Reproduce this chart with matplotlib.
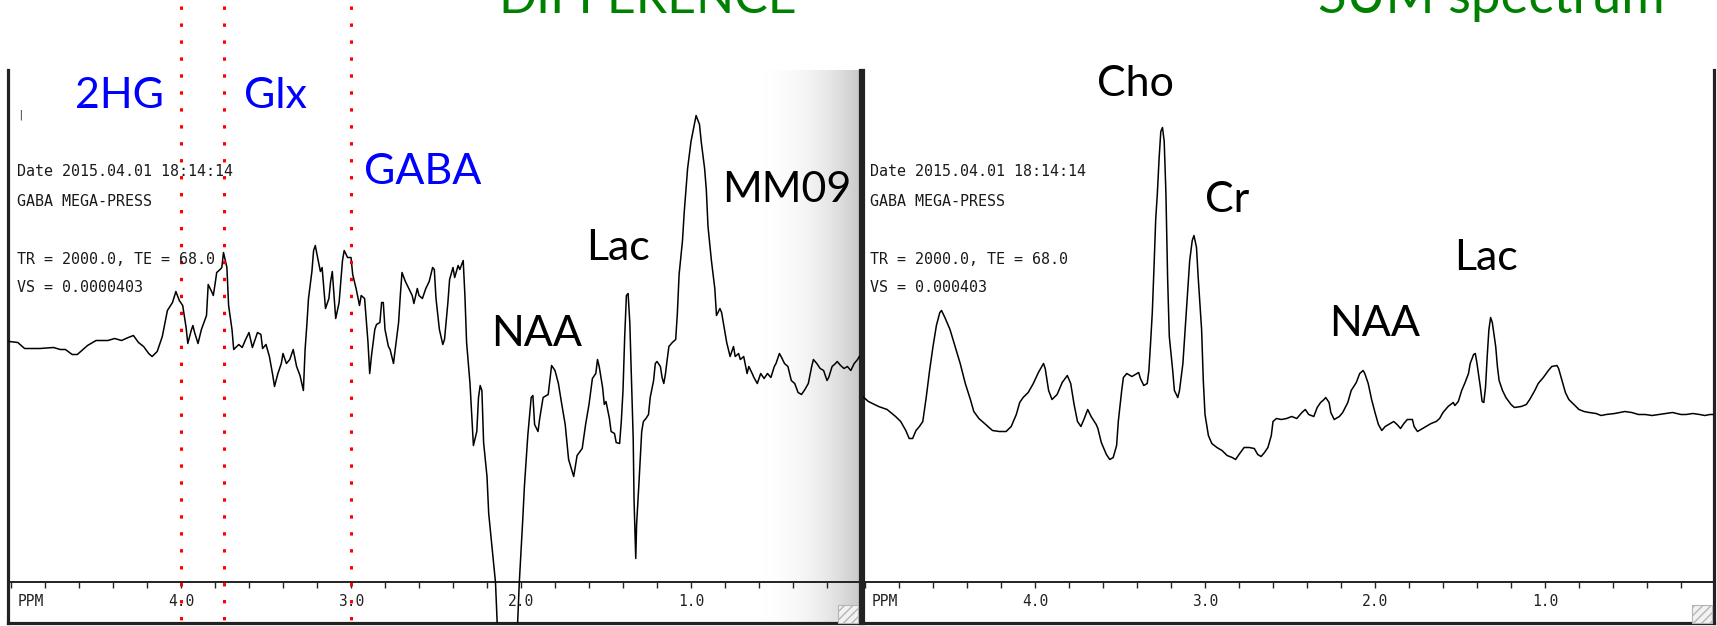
import numpy as np
import matplotlib.pyplot as plt
from matplotlib import transforms
from matplotlib.patches import Rectangle

# ---- values (ppm, amplitude in a.u.) ----
diff_ppm = [5.01, 4.96, 4.92, 4.83, 4.75, 4.71, 4.68, 4.64, 4.61, 4.55,
            4.50, 4.43, 4.39, 4.35, 4.31, 4.28, 4.25, 4.22, 4.19, 4.17,
            4.14, 4.11, 4.08, 4.05, 4.03, 4.01, 3.99, 3.97, 3.96, 3.94,
            3.93, 3.92, 3.90, 3.88, 3.85, 3.84, 3.82, 3.81, 3.80, 3.79,
            3.77, 3.76, 3.75, 3.73, 3.72, 3.70, 3.69, 3.66, 3.64, 3.62,
            3.60, 3.58, 3.57, 3.55, 3.53, 3.52, 3.50, 3.48, 3.46, 3.45,
            3.43, 3.41, 3.40, 3.38, 3.36, 3.34, 3.32, 3.30, 3.28,
            3.27, 3.26, 3.25, 3.23, 3.22, 3.21, 3.20, 3.18, 3.17, 3.15,
            3.13, 3.12, 3.11, 3.10, 3.09, 3.07, 3.06, 3.05, 3.04, 3.02,
            3.00, 2.99, 2.97, 2.95, 2.94, 2.92, 2.90, 2.89, 2.88, 2.86,
            2.85, 2.83, 2.82, 2.81, 2.80, 2.78, 2.77, 2.75, 2.74, 2.72,
            2.71, 2.70, 2.68, 2.66, 2.64, 2.63, 2.61, 2.60, 2.58, 2.56,
            2.54, 2.52, 2.51, 2.50, 2.48, 2.46, 2.45, 2.43, 2.42, 2.40,
            2.39, 2.37, 2.36, 2.34, 2.33, 2.32, 2.30, 2.29, 2.28, 2.26,
            2.25, 2.24, 2.23, 2.22, 2.20, 2.19, 2.17, 2.15, 2.14, 2.08,
            2.02, 2.01, 1.99, 1.98, 1.96, 1.94, 1.93, 1.92, 1.90, 1.89,
            1.87, 1.84, 1.82, 1.80, 1.78, 1.76, 1.74, 1.72, 1.69, 1.67,
            1.64, 1.62, 1.60,
            1.58, 1.56, 1.55, 1.54, 1.52, 1.51, 1.50, 1.48, 1.47, 1.45,
            1.44, 1.42, 1.41, 1.40, 1.39, 1.38, 1.37, 1.36, 1.35, 1.34,
            1.335, 1.325, 1.32, 1.305, 1.29, 1.28, 1.265, 1.25, 1.24, 1.22,
            1.21, 1.20, 1.18, 1.17, 1.16, 1.15, 1.14, 1.13, 1.11, 1.09,
            1.08, 1.07, 1.05, 1.04, 1.02, 1.00, 0.98, 0.97, 0.95, 0.94,
            0.92, 0.91, 0.90, 0.88, 0.86, 0.85, 0.83, 0.82, 0.80, 0.79,
            0.77, 0.75, 0.74, 0.72, 0.71, 0.69, 0.67, 0.66, 0.64, 0.63,
            0.61, 0.59, 0.57, 0.55, 0.53, 0.51, 0.50, 0.48, 0.47, 0.45,
            0.43, 0.42, 0.41, 0.39, 0.37, 0.35, 0.33, 0.31, 0.29, 0.28,
            0.26, 0.24, 0.22, 0.20, 0.19, 0.17, 0.15, 0.14, 0.12, 0.10,
            0.08, 0.06, 0.04, 0.02, 0.01]
diff_amp = [24.0, 23.9, 23.3, 23.3, 23.4, 23.2, 23.2, 22.7, 22.7, 23.6,
            24.1, 24.1, 24.3, 24.1, 24.4, 24.6, 23.9, 23.5, 22.8, 22.5,
            23.0, 24.5, 27.1, 27.9, 29.0, 28.1, 27.6, 25.4, 23.8, 25.1,
            25.6, 24.9, 23.8, 25.2, 26.6, 29.7, 29.0, 28.6, 29.7, 30.9,
            31.2, 31.4, 32.9, 31.4, 27.6, 25.2, 23.2, 23.7, 23.4, 24.2,
            24.9, 23.4, 23.9, 24.9, 24.7, 23.3, 23.7, 22.5, 20.6, 19.5,
            20.8, 21.8, 22.8, 21.8, 22.2, 23.2, 21.5, 20.6, 19.1,
            23.2, 25.6, 28.3, 31.0, 33.1, 33.6, 32.7, 31.0, 31.4, 27.3,
            28.3, 30.0, 31.0, 28.6, 26.3, 27.9, 30.0, 32.1, 33.1, 32.4,
            32.4, 30.7, 29.3, 27.6, 28.6, 28.3, 23.9, 20.8, 22.5, 25.2,
            25.7, 25.9, 27.9, 27.9, 25.2, 23.5, 23.2, 21.8, 23.2, 25.9,
            28.6, 30.9, 30.0, 29.3, 28.6, 27.8, 29.3, 28.6, 28.3, 29.3,
            30.0, 31.4, 31.2, 28.3, 25.2, 23.7, 24.2, 27.9, 30.2, 31.4,
            30.4, 31.6, 31.2, 32.1, 28.6, 23.9, 19.8, 16.7, 13.6, 15.0,
            18.4, 19.6, 19.1, 13.9, 10.5, 6.8, 3.4, -0.1, -4.2, -10.0,
            -4.2, -0.1, 6.1, 9.5, 14.6, 18.4, 18.6, 15.7, 15.0, 16.3,
            18.4, 18.7, 21.6, 21.1, 19.8, 17.7, 15.7, 12.2, 10.5, 12.6,
            13.3, 15.7, 17.7,
            20.3, 20.8, 22.2, 21.5, 19.4, 17.7, 18.0, 16.3, 15.0, 14.8,
            13.9, 13.8, 16.0, 19.1, 24.5, 28.6, 28.8, 25.9, 20.1, 14.3,
            8.1, 2.3, 5.7, 10.2, 15.0, 16.0, 16.3, 16.7, 18.4, 20.1,
            21.8, 22.0, 21.5, 20.4, 19.8, 20.8, 22.2, 23.5, 23.9, 24.2,
            26.9, 30.7, 34.1, 36.9, 41.3, 44.0, 45.7, 46.6, 45.7, 44.0,
            41.3, 39.2, 35.5, 32.1, 29.3, 26.6, 27.3, 26.9, 24.9, 23.9,
            22.5, 23.5, 22.5, 22.8, 22.2, 22.5, 20.8, 21.5, 20.8, 20.4,
            19.8, 20.8, 20.3, 20.8, 20.4, 21.5, 21.8, 22.8, 22.5, 21.8,
            21.5, 20.8, 20.1, 19.8, 18.9, 18.7, 19.2, 19.8, 21.5, 22.2,
            21.8, 21.3, 21.1, 20.1, 20.4, 21.5, 21.8, 22.0, 21.6, 21.3,
            21.5, 21.1, 21.8, 22.2, 22.5]

sum_ppm = [5.02, 4.98, 4.92, 4.87, 4.82, 4.79, 4.76, 4.74, 4.72, 4.70,
           4.68, 4.66, 4.64, 4.62, 4.60, 4.58, 4.56, 4.55, 4.53, 4.50,
           4.47, 4.44, 4.41, 4.38, 4.36, 4.33, 4.29, 4.25, 4.21, 4.17,
           4.14, 4.11, 4.09, 4.07, 4.04, 4.01, 3.98, 3.95, 3.94, 3.92,
           3.90, 3.87, 3.84, 3.81, 3.79, 3.77, 3.75, 3.73, 3.71, 3.69,
           3.67, 3.64, 3.63, 3.61, 3.58, 3.56, 3.54, 3.52, 3.51, 3.49,
           3.48, 3.46, 3.43, 3.41, 3.39, 3.38, 3.36, 3.34, 3.33, 3.32,
           3.31, 3.30, 3.29, 3.28,
           3.27, 3.26, 3.25, 3.24, 3.23, 3.22, 3.21, 3.19, 3.18, 3.16,
           3.15, 3.13, 3.11, 3.09, 3.075, 3.065, 3.05, 3.04, 3.02, 3.01,
           3.00, 2.98, 2.96, 2.93, 2.90, 2.87, 2.84, 2.82, 2.80, 2.77,
           2.74, 2.71, 2.69, 2.67, 2.65, 2.63, 2.61, 2.60, 2.58, 2.55,
           2.52, 2.49, 2.46, 2.43, 2.41, 2.39, 2.36, 2.34, 2.32, 2.30,
           2.29, 2.27, 2.26, 2.24, 2.21, 2.19, 2.16, 2.14, 2.11, 2.09,
           2.07, 2.06, 2.04, 2.02, 2.00, 1.98, 1.96, 1.94, 1.91, 1.89,
           1.87, 1.85, 1.83, 1.81, 1.78, 1.77, 1.75, 1.72, 1.70, 1.67,
           1.64, 1.62, 1.60, 1.57, 1.54,
           1.53, 1.51, 1.49, 1.47, 1.45, 1.44, 1.42, 1.41, 1.40, 1.38,
           1.37, 1.36, 1.35, 1.34, 1.33, 1.32, 1.31, 1.29, 1.28, 1.27,
           1.25, 1.23, 1.20, 1.18, 1.14, 1.11, 1.09, 1.06, 1.04, 1.01,
           0.98, 0.96, 0.93, 0.92, 0.90, 0.88, 0.86, 0.83, 0.80, 0.77,
           0.74, 0.70, 0.67, 0.64, 0.59, 0.56, 0.53, 0.49, 0.45, 0.41,
           0.37, 0.33, 0.29, 0.25, 0.20, 0.17, 0.13, 0.09, 0.06, 0.03,
           0.00]
sum_amp = [18.6, 18.0, 17.5, 17.2, 16.5, 16.0, 15.1, 14.3, 14.3, 15.1,
           15.5, 16.0, 18.4, 21.1, 23.5, 25.6, 26.9, 27.1, 26.4, 25.2,
           23.5, 21.8, 19.8, 18.2, 17.0, 16.3, 15.7, 15.1, 15.0, 15.0,
           15.5, 16.7, 17.9, 18.4, 18.9, 19.8, 20.9, 21.8, 21.3, 19.1,
           18.2, 18.7, 19.9, 20.6, 19.8, 17.7, 16.0, 15.5, 16.3, 17.2,
           16.5, 15.7, 15.3, 13.9, 12.7, 12.2, 12.4, 13.6, 16.0, 19.1,
           20.4, 20.8, 20.5, 20.7, 20.9, 20.3, 19.6, 19.8, 21.1, 23.9,
           26.9, 31.4, 36.2, 38.9,
           42.3, 45.0, 45.4, 44.0, 38.9, 30.4, 24.5, 21.1, 19.1, 18.4,
           19.1, 21.8, 26.9, 32.1, 34.1, 34.6, 33.4, 30.4, 25.2, 20.1,
           16.7, 14.6, 13.8, 13.4, 13.1, 12.6, 12.4, 12.2, 12.7, 13.4,
           13.4, 13.3, 12.7, 12.5, 12.9, 13.4, 14.6, 16.0, 16.3, 16.2,
           16.3, 16.5, 16.3, 16.9, 17.2, 16.7, 16.5, 17.4, 17.9, 18.2,
           18.4, 17.9, 16.9, 16.2, 16.5, 16.9, 17.9, 19.1, 19.9, 20.8,
           21.1, 20.8, 19.8, 18.2, 16.9, 15.7, 15.1, 15.5, 15.8, 16.0,
           15.7, 15.3, 15.8, 16.2, 16.2, 15.5, 15.0, 15.3, 15.5, 15.8,
           16.0, 16.3, 16.9, 17.5, 17.9,
           17.6, 18.0, 19.1, 19.9, 20.8, 21.8, 22.7, 22.8, 21.8, 19.4,
           18.0, 17.9, 19.4, 22.5, 25.2, 26.4, 25.9, 23.5, 21.5, 20.1,
           19.1, 18.4, 17.7, 17.4, 17.5, 17.7, 18.2, 19.1, 19.8, 20.4,
           21.1, 21.5, 21.6, 21.3, 20.1, 18.9, 18.2, 17.7, 17.2, 17.0,
           16.9, 16.8, 16.6, 16.7, 16.8, 16.9, 17.0, 16.9, 16.7, 16.7,
           16.6, 16.7, 16.8, 16.9, 16.7, 16.7, 16.8, 16.7, 16.6, 16.7,
           16.7]

tick_labels = ['4.0', '3.0', '2.0', '1.0']
tick_label_ppm = [4.0, 3.0, 2.0, 1.0]
red_line_ppm = [4.0, 3.75, 3.0]

info_left = ['Date 2015.04.01 18:14:14', 'GABA MEGA-PRESS', '',
             'TR = 2000.0, TE = 68.0', 'VS = 0.0000403']
info_right = ['Date 2015.04.01 18:14:14', 'GABA MEGA-PRESS', '',
              'TR = 2000.0, TE = 68.0', 'VS = 0.000403']

# peak labels: text, ppm, amplitude (baseline), colour
labels_left = [('2HG', 4.624, 47.4, 'blue'), ('Glx', 3.629, 47.4, 'blue'),
               ('GABA', 2.924, 39.7, 'blue'), ('NAA', 2.176, 23.5, 'black'),
               ('Lac', 1.618, 32.2, 'black'), ('MM09', 0.818, 38.0, 'black')]
labels_right = [('Cho', 3.635, 48.6, 'black'), ('Cr', 3.0, 37.0, 'black'),
                ('NAA', 2.271, 24.6, 'black'), ('Lac', 1.535, 31.1, 'black')]

# ---- layout (pixels of the 1717 x 626 image) ----
W, H = 1717, 626
AX_TOP, AX_BOT, BASE_Y = 70, 623, 581.5
PX_PER_PPM, PX_PER_AU = 170.0, 10.0
LABEL_FONT = 'Lato'
MONO = 'DejaVu Sans Mono'
EDGE = '#222222'

fig = plt.figure(figsize=(W / 100, H / 100), dpi=100)


def make_panel(x0, x1, x_5ppm, ppm, amp):
    ax = fig.add_axes([x0 / W, 1 - AX_BOT / H, (x1 - x0) / W, (AX_BOT - AX_TOP) / H])
    ax.set_xlim(5.0 + (x_5ppm - x0) / PX_PER_PPM, 5.0 - (x1 - x_5ppm) / PX_PER_PPM)
    ax.set_ylim(-(AX_BOT - BASE_Y) / PX_PER_AU, (BASE_Y - AX_TOP) / PX_PER_AU)
    ax.set_xticks([])
    ax.set_yticks([])
    ax.spines['top'].set_visible(False)
    for s in ['left', 'right', 'bottom']:
        ax.spines[s].set_linewidth(2.3)
        ax.spines[s].set_color(EDGE)

    ax.plot(ppm, amp, color='black', lw=1.1, zorder=3)

    # ppm axis with ticks every 0.2 ppm hanging below
    ax.axhline(0, color=EDGE, lw=1.4, zorder=2)
    ax.vlines(np.arange(0, 26) * 0.2, -0.6, 0, color=EDGE, lw=1.0, zorder=2)
    for lab, p in zip(tick_labels, tick_label_ppm):
        ax.text(p, -2.05, lab, ha='center', va='center', family=MONO,
                fontsize=10.5, color='#222222')
    ax.text(5.0 - 7 / PX_PER_PPM, -2.05, 'PPM', ha='left', va='center',
            family=MONO, fontsize=10.5, color='#222222')
    return ax


ax_l = make_panel(8, 860, 11, diff_ppm, diff_amp)
ax_r = make_panel(863, 1714, 865, sum_ppm, sum_amp)

# light grey shading at the right side of the difference window (1 px strips)
xlim_l = ax_l.get_xlim()
for px in range(745, 860):
    t = (px - 745) / (860 - 745)
    g = 1 - 0.22 * t ** 2.5
    ax_l.axvspan(5.0 - (px - 11) / PX_PER_PPM, 5.0 - (px + 1 - 11) / PX_PER_PPM,
                 color=(g, g, g), lw=0, zorder=0)
ax_l.set_xlim(xlim_l)

# info text blocks
for x0, lines in [(17, info_left), (870, info_right)]:
    ys = [172, 201, 230, 259, 288]
    for y, s in zip(ys, lines):
        if s:
            fig.text(x0 / W, 1 - y / H, s, ha='left', va='center', family=MONO,
                     fontsize=10.8, color='#1a1a1a')
fig.text(17 / W, 1 - 115 / H, '|', ha='left', va='center', family=MONO,
         fontsize=8, color='#333333')

# peak labels
for ax, labs in [(ax_l, labels_left), (ax_r, labels_right)]:
    for s, p, a, c in labs:
        ax.text(p, a, s, ha='left', va='baseline', family=LABEL_FONT,
                fontsize=31, color=c, zorder=6)

# red dotted markers running through the whole figure
blend = transforms.blended_transform_factory(ax_l.transData, fig.transFigure)
for p in red_line_ppm:
    ax_l.plot([p, p], [1 - 5.5 / H, 0], transform=blend, color='red', lw=2.2,
              linestyle=(0, (1.1, 4.45)), clip_on=False, zorder=7,
              scalex=False, scaley=False)

# window titles (cut off at the top edge, as in the screenshot)
fig.text(498 / W, 1 - 13 / H, 'DIFFERENCE', ha='left', va='baseline',
         family=LABEL_FONT, fontsize=36, color='#008000')
fig.text(1318 / W, 1 - 13 / H, 'SUM spectrum', ha='left', va='baseline',
         family=LABEL_FONT, fontsize=38, color='#008000')

# resize grips in the bottom-right corners
for gx in [838, 1692]:
    fig.add_artist(Rectangle((gx / W, 3 / H), 20 / W, 18 / H,
                             transform=fig.transFigure, facecolor='#f2f2f2',
                             edgecolor='#b5b5b5', hatch='////', lw=0.8))

fig.savefig('out.png', dpi=100)
